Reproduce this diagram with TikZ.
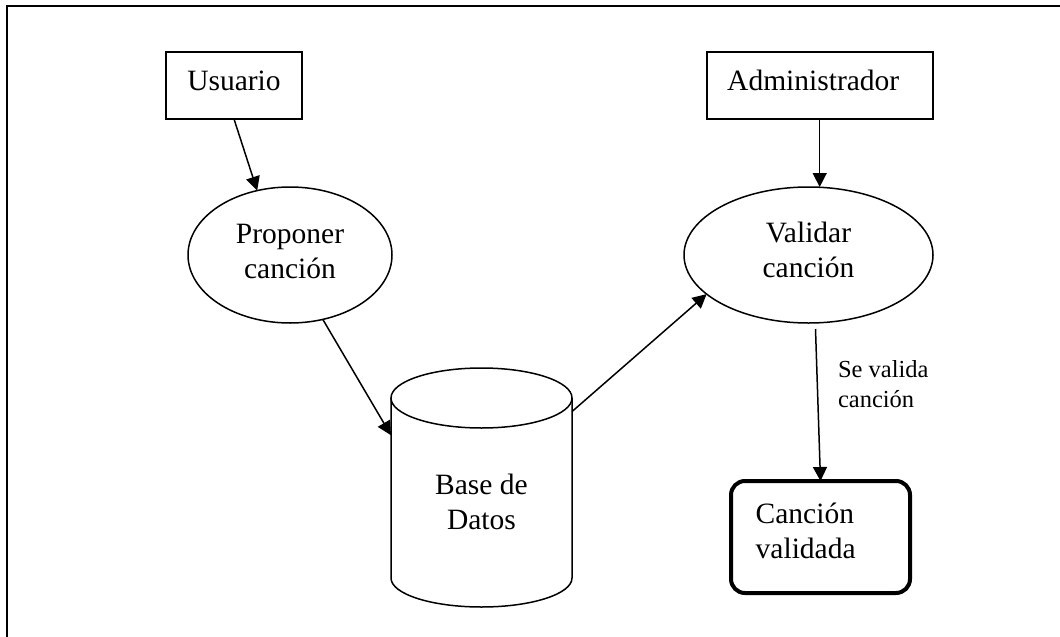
\documentclass[tikz,border=0pt]{standalone}
\usepackage{fontspec}
\setmainfont{Liberation Serif}
\usetikzlibrary{arrows.meta,shapes.geometric}
% invisible struts that fix the vertical extent of node texts
\newcommand\upstrut[1]{\rule{0pt}{#1}}
\newcommand\downstrut[1]{\rule[-#1]{0pt}{#1}}

\begin{document}
\begin{tikzpicture}[x=1pt,y=-1pt,
  every node/.style={inner sep=0pt, outer sep=0pt},
  maintext/.style={font=\fontsize{29.5}{35}\selectfont},
  actor/.style={draw, rectangle, line width=1.6pt, minimum width=#1, minimum height=67pt, maintext},
  process/.style={draw, ellipse, line width=1.5pt, minimum height=136pt, align=center, maintext},
  store/.style={rectangle, minimum width=181pt, minimum height=239pt, align=center, maintext},
  result/.style={draw, rectangle, rounded corners=14pt, line width=4pt, minimum width=179pt, minimum height=112pt, maintext},
  flow/.style={line width=1.5pt, -{Triangle[length=14pt,width=14pt]}},
  flowlabel/.style={font=\fontsize{24.5}{30}\selectfont, align=left},
  frame/.style={line width=2.4pt},
]
\useasboundingbox (0,0) rectangle (1060,637);

% outer frame (only the left and top edges fall inside the page)
\draw[frame] (7,645) -- (7,6) -- (1070,6);

% actors
\node[actor=136pt] (usuario) at (234,85.5) {\upstrut{22pt}Usuario\downstrut{12pt}};
\node[actor=226pt, text width=185pt, align=left] (admin) at (819.7,85.5) {\upstrut{22pt}Administrador\downstrut{12pt}};

% processes
\node[process, minimum width=204pt] (proponer) at (290,255) {\upstrut{22pt}Proponer\\canción\downstrut{11pt}};
\node[process, minimum width=249pt] (validar) at (808.5,255) {\upstrut{22pt}Validar\\canción\downstrut{13pt}};

% data store (cylinder drawn around the node)
\node[store] (db) at (481.5,487.5) {\upstrut{50pt}Base de\\Datos};
\draw[line width=1.5pt] ([yshift=-30pt]db.north) ellipse [x radius=90.5pt, y radius=30pt];
\draw[line width=1.5pt] ([yshift=-30pt]db.north west) -- ([yshift=29pt]db.south west)
  arc[start angle=180, end angle=360, x radius=90.5pt, y radius=29pt]
  -- ([yshift=-30pt]db.north east);

% result
\node[result, text width=129.6pt, align=left] (cancion) at (820.5,537) {\upstrut{22pt}Canción\\validada\downstrut{15pt}};

% flows
\draw[flow] (usuario.south) -- (proponer.117);
\draw[flow] (admin.south) -- (admin.south |- validar.north);
\draw[flow] (proponer.-63) -- (db.150);
\draw[flow] (db.40) -- (validar.201);
\draw[flow] ([xshift=7pt,yshift=-6pt]validar.south) -- (cancion.north);

% flow label
\node[flowlabel, anchor=north west] (lbl) at (838,359) {\upstrut{18pt}Se valida\\canción};
\end{tikzpicture}
\end{document}
